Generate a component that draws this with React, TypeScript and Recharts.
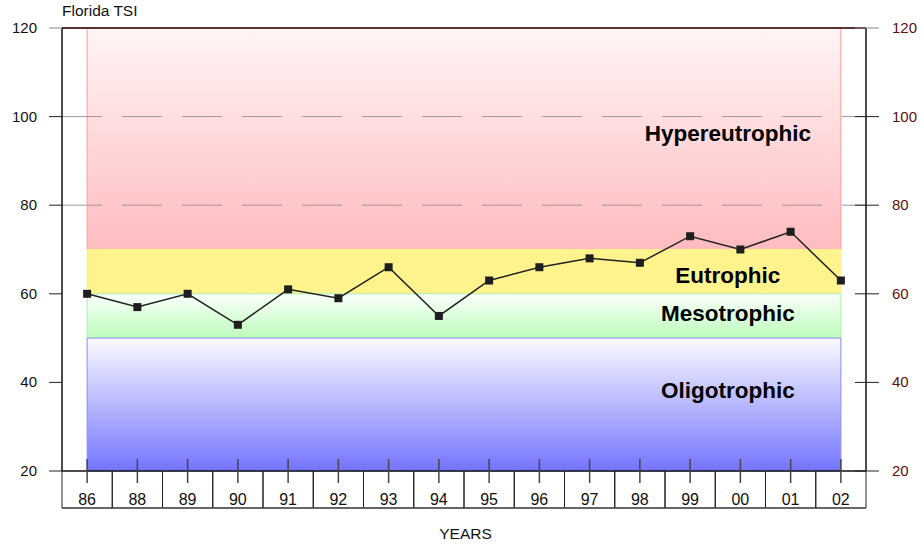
import React from 'react';
import { ComposedChart, Line, XAxis, YAxis, ReferenceArea, ReferenceLine, ReferenceDot } from 'recharts';

const years = ['86', '88', '89', '90', '91', '92', '93', '94', '95', '96', '97', '98', '99', '00', '01', '02'];
const tsi = [60, 57, 60, 53, 61, 59, 66, 55, 63, 66, 68, 67, 73, 70, 74, 63];
const yTicks = [20, 40, 60, 80, 100, 120];
const gridValues = [80, 100];

const zones = [
  { name: 'hyper', lo: 70, hi: 120, fill: 'url(#gRed)', stroke: '#ff9a9a' },
  { name: 'eu', lo: 60, hi: 70, fill: 'url(#gYellow)', stroke: '#fff08a' },
  { name: 'meso', lo: 50, hi: 60, fill: 'url(#gGreen)', stroke: '#a8f0a8' },
  { name: 'oligo', lo: 20, hi: 50, fill: 'url(#gBlue)', stroke: '#8a8aff' },
];

const zoneLabels = [
  { text: 'Hypereutrophic', x: 12.75, y: 96.2 },
  { text: 'Eutrophic', x: 12.75, y: 64.2 },
  { text: 'Mesotrophic', x: 12.75, y: 55.7 },
  { text: 'Oligotrophic', x: 12.75, y: 38.3 },
];

const data = years.map((y, i) => ({ i, year: y, tsi: tsi[i] }));
const FONT = '"Liberation Sans", Arial, Helvetica, sans-serif';

const SquareDot = (p: any) => {
  if (p.cx == null || p.cy == null) return <g key={p.key} />;
  return <rect key={p.key} x={p.cx - 4} y={p.cy - 4} width={8} height={8} fill="#1e1e1e" />;
};

const XTick = (p: any) => {
  const { x, y, payload } = p;
  const n = p.visibleTicksCount || years.length;
  const half = (p.width || 804) / n / 2;
  return (
    <g>
      <line x1={x} x2={x} y1={y - 12} y2={y + 12} stroke="#444" strokeWidth={1.5} />
      <line x1={x - half} x2={x - half} y1={y} y2={y + 37} stroke="#222" strokeWidth={1} />
      <line x1={x + half} x2={x + half} y1={y} y2={y + 37} stroke="#222" strokeWidth={1} />
      <line x1={x - half} x2={x + half} y1={y + 37} y2={y + 37} stroke="#333" strokeWidth={1.5} />
      <text x={x} y={y + 34} textAnchor="middle" fontSize={16} fill="#111" fontFamily={FONT}>
        {years[payload.value]}
      </text>
    </g>
  );
};

const LeftTick = (p: any) => (
  <g>
    <line x1={p.x - 13} x2={p.x} y1={p.y} y2={p.y} stroke={p.payload.value === 120 ? '#888' : '#222'} />
    <text x={p.x - 25} y={p.y + 5} textAnchor="end" fontSize={15} fill="#111" fontFamily={FONT}>
      {p.payload.value}
    </text>
  </g>
);

const RightTick = (p: any) => (
  <g>
    <line x1={p.x - 11} x2={p.x + 13} y1={p.y} y2={p.y} stroke={p.payload.value === 120 ? '#888' : '#222'} />
    <text x={p.x + 26} y={p.y + 5} textAnchor="start" fontSize={15} fill="#5c1010" fontFamily={FONT}>
      {p.payload.value}
    </text>
  </g>
);

const ZoneLabel = (text: string) => (props: any) => {
  const vb = props.viewBox || {};
  const cx = (vb.x || 0) + (vb.width || 0) / 2;
  const cy = (vb.y || 0) + (vb.height || 0) / 2;
  return (
    <text x={cx} y={cy + 8} textAnchor="middle" fontSize={22.5} fontWeight="bold" fill="#000" fontFamily={FONT}>
      {text}
    </text>
  );
};

export default function App() {
  return (
    <div style={{ position: 'absolute', left: 0, top: 0, width: 921, height: 546, background: '#fff', fontFamily: FONT }}>
      <div style={{ position: 'absolute', left: 62, top: 2, fontSize: 15.5, color: '#111' }}>Florida TSI</div>
      <div style={{ position: 'absolute', left: 0, width: 931, top: 525, fontSize: 15.5, color: '#111', textAlign: 'center' }}>YEARS</div>
      <ComposedChart width={921} height={546} data={data} margin={{ top: 28, right: 0, bottom: 0, left: 0 }}>
        <defs>
          <linearGradient id="gRed" x1="0" y1="0" x2="0" y2="1">
            <stop offset="0%" stopColor="#fff5f5" />
            <stop offset="100%" stopColor="#ffbcc0" />
          </linearGradient>
          <linearGradient id="gYellow" x1="0" y1="0" x2="0" y2="1">
            <stop offset="0%" stopColor="#fff38e" />
            <stop offset="100%" stopColor="#fff38e" />
          </linearGradient>
          <linearGradient id="gGreen" x1="0" y1="0" x2="0" y2="1">
            <stop offset="0%" stopColor="#fbfffb" />
            <stop offset="100%" stopColor="#bdfdbd" />
          </linearGradient>
          <linearGradient id="gBlue" x1="0" y1="0" x2="0" y2="1">
            <stop offset="0%" stopColor="#fbfbff" />
            <stop offset="100%" stopColor="#7474ff" />
          </linearGradient>
        </defs>
        <XAxis
          dataKey="i"
          type="number"
          domain={[-0.5, years.length - 0.5]}
          ticks={years.map((_, i) => i)}
          interval={0}
          tickLine={false}
          tickSize={0}
          tickMargin={0}
          height={75}
          axisLine={{ stroke: '#111', strokeWidth: 1.5 }}
          tick={XTick}
        />
        <YAxis
          yAxisId="left"
          orientation="left"
          domain={[20, 120]}
          ticks={yTicks}
          width={62}
          tickLine={false}
          tickSize={0}
          tickMargin={0}
          axisLine={{ stroke: '#111', strokeWidth: 1.5 }}
          tick={LeftTick}
        />
        <YAxis
          yAxisId="right"
          orientation="right"
          domain={[20, 120]}
          ticks={yTicks}
          width={55}
          tickLine={false}
          tickSize={0}
          tickMargin={0}
          axisLine={{ stroke: '#111', strokeWidth: 1.5 }}
          tick={RightTick}
        />
        {zones.map((z) => (
          <ReferenceArea
            key={z.name}
            yAxisId="left"
            x1={0}
            x2={years.length - 1}
            y1={z.lo}
            y2={z.hi}
            fill={z.fill}
            fillOpacity={1}
            stroke={z.stroke}
            strokeWidth={1}
          />
        ))}
        {gridValues.map((v) => (
          <ReferenceLine key={v} yAxisId="left" y={v} stroke="#a89494" strokeWidth={1} strokeDasharray="40 20" />
        ))}
        <ReferenceLine yAxisId="left" y={120} stroke="#5a3434" strokeWidth={2} />
        {zoneLabels.map((l) => (
          <ReferenceDot key={l.text} yAxisId="left" x={l.x} y={l.y} r={1} fill="none" stroke="none" label={ZoneLabel(l.text)} />
        ))}
        <Line
          yAxisId="right"
          type="linear"
          dataKey="tsi"
          stroke="none"
          dot={false}
          activeDot={false}
          legendType="none"
          isAnimationActive={false}
        />
        <Line
          yAxisId="left"
          type="linear"
          dataKey="tsi"
          stroke="#222"
          strokeWidth={1.5}
          dot={SquareDot}
          activeDot={false}
          isAnimationActive={false}
        />
      </ComposedChart>
    </div>
  );
}
